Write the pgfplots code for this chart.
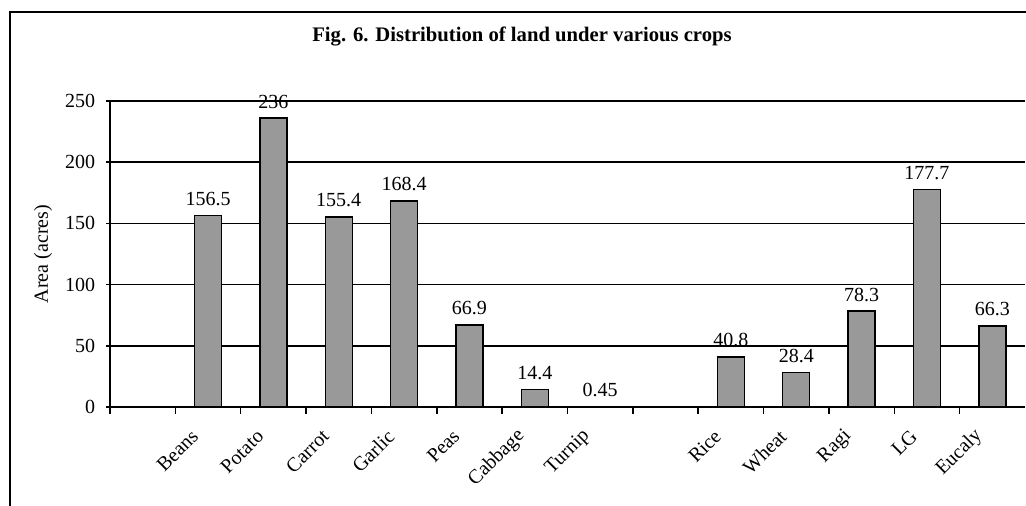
\documentclass[border=0pt]{standalone}
\usepackage{pgfplots}
\pgfplotsset{compat=1.18}
\usepackage{fontspec}
\setmainfont{Liberation Serif}
\definecolor{bargray}{RGB}{153,153,153}
\begin{document}
\begin{tikzpicture}
\path[use as bounding box] (-82.5pt,-74.25pt) rectangle (687pt,305.25pt);
\draw[line width=1.5pt] (-75pt,-80pt) -- (-75pt,296.25pt) -- (700pt,296.25pt);
\begin{axis}[
  at={(0pt,0pt)}, anchor=south west,
  scale only axis,
  width=686.25pt, height=229.5pt,
  xmin=-0.5, xmax=13.5,
  ymin=0, ymax=250,
  ytick={0,50,100,150,200,250},
  xtick={1,2,3,4,5,6,7,9,10,11,12,13},
  xticklabels={Beans,Potato,Carrot,Garlic,Peas,Cabbage,Turnip,Rice,Wheat,Ragi,LG,Eucaly},
  minor xtick={-0.5,0.5,1.5,2.5,3.5,4.5,5.5,6.5,7.5,8.5,9.5,10.5,11.5,12.5},
  major x tick style={draw=none},
  minor x tick style={black, line width=1.1pt},
  minor tick length=5.25pt,
  major tick length=5.25pt,
  ytick style={black, line width=1.1pt},
  tick align=outside,
  axis lines=left,
  every outer x axis line/.append style={-},
  every outer y axis line/.append style={-},
  axis line style={-, line width=1.2pt, black},
  ymajorgrids,
  grid style={black, line width=1.1pt},
  tick label style={font=\fontsize{15}{17}\selectfont},
  /pgf/number format/assume math mode=true,
  yticklabel style={anchor=east, xshift=-5pt},
  xticklabel style={xshift=-7.5pt, yshift=-12pt, rotate=45, anchor=east},
  ybar,
  bar width=20.25pt,
  point meta=explicit symbolic,
  nodes near coords,
  every node near coord/.append style={font=\fontsize{15}{17}\selectfont, yshift=3.5pt, black},
  clip=false,
]
\addplot[fill=bargray, draw=black, line width=1.1pt] coordinates {
 (1,156.5) [156.5]
 (2,236) [236]
 (3,155.4) [155.4]
 (4,168.4) [168.4]
 (5,66.9) [66.9]
 (6,14.4) [14.4]
 (7,0.45) [0.45]
 (9,40.8) [40.8]
 (10,28.4) [28.4]
 (11,78.3) [78.3]
 (12,177.7) [177.7]
 (13,66.3) [66.3]
};
\end{axis}
\node[font=\bfseries\fontsize{15.5}{18}\selectfont] at (309pt,277.5pt) {Fig. 6. Distribution of land under various crops};
\node[rotate=90, font=\fontsize{15}{17}\selectfont] at (-50.25pt,114.75pt) {Area (acres)};
\end{tikzpicture}
\end{document}
